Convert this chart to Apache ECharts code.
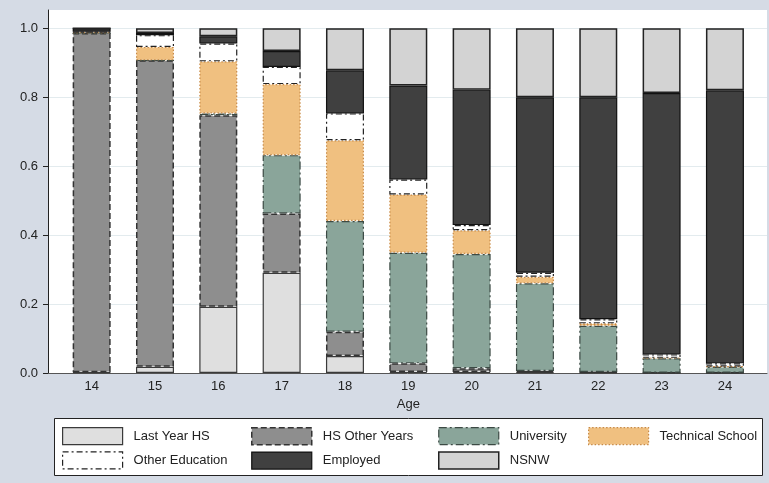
<!DOCTYPE html>
<html>
<head>
<meta charset="utf-8">
<script src="https://cdn.jsdelivr.net/npm/echarts@6/dist/echarts.min.js"></script>
<style>
  html, body { margin: 0; padding: 0; background: #d5dbe5; }
  #chart { width: 769px; height: 483px; }
</style>
</head>
<body>
<div id="chart"></div>
<script>
// Share of each activity by age (stacked proportions, each bar sums to 1)
const ages = ['14', '15', '16', '17', '18', '19', '20', '21', '22', '23', '24'];
const lastYearHS     = [0.002, 0.018, 0.192, 0.291, 0.049, 0.003, 0.003, 0.002, 0.001, 0.000, 0.000];
const hsOtherYears   = [0.984, 0.889, 0.556, 0.172, 0.071, 0.025, 0.011, 0.004, 0.002, 0.001, 0.001];
const university     = [0.000, 0.000, 0.005, 0.169, 0.321, 0.321, 0.331, 0.254, 0.134, 0.042, 0.017];
const technical      = [0.002, 0.039, 0.151, 0.206, 0.234, 0.169, 0.069, 0.019, 0.007, 0.001, 0.001];
const otherEducation = [0.002, 0.034, 0.052, 0.050, 0.078, 0.043, 0.015, 0.012, 0.012, 0.010, 0.009];
const employed       = [0.010, 0.006, 0.021, 0.046, 0.125, 0.273, 0.393, 0.509, 0.644, 0.758, 0.792];
const nsnw           = [0.000, 0.014, 0.023, 0.066, 0.122, 0.166, 0.178, 0.200, 0.200, 0.188, 0.180];
const yTicks = [0, 0.2, 0.4, 0.6, 0.8, 1.0];

const FONT = 'Liberation Sans, Arial, Helvetica, sans-serif';
const Y_MAX = 1.053;

const styles = {
  'Last Year HS':     { color: '#dfdfdf', borderColor: '#3a3a3a', borderWidth: 1.2, borderType: 'solid' },
  'HS Other Years':   { color: '#8e8e8e', borderColor: '#333333', borderWidth: 1.5, borderType: [6, 3] },
  'University':       { color: '#8aa59a', borderColor: '#3c4a44', borderWidth: 1.2, borderType: [8, 3, 2, 3] },
  'Technical School': { color: '#f0c080', borderColor: '#c88a46', borderWidth: 1.2, borderType: [1.5, 2] },
  'Other Education':  { color: '#ffffff', borderColor: '#222222', borderWidth: 1.2, borderType: [6, 3, 2, 3] },
  'Employed':         { color: '#404040', borderColor: '#111111', borderWidth: 1.2, borderType: 'solid' },
  'NSNW':             { color: '#d3d3d3', borderColor: '#222222', borderWidth: 1.5, borderType: 'solid' }
};

const seriesData = [
  ['Last Year HS', lastYearHS],
  ['HS Other Years', hsOtherYears],
  ['University', university],
  ['Technical School', technical],
  ['Other Education', otherEducation],
  ['Employed', employed],
  ['NSNW', nsnw]
];

// Bars live on grid 1 (category axis); grid 0 carries the frame, value axis and gridlines.
const series = seriesData.map(([name, values]) => ({
  name,
  type: 'bar',
  stack: 'total',
  xAxisIndex: 1,
  yAxisIndex: 1,
  barWidth: 38,
  data: values,
  itemStyle: styles[name],
  emphasis: { disabled: true }
}));

function legendColumn(names, left) {
  return {
    orient: 'vertical',
    left: left,
    top: 427,
    padding: 0,
    itemGap: 6,
    itemWidth: 60,
    itemHeight: 17,
    icon: 'rect',
    selectedMode: false,
    textStyle: { fontFamily: FONT, fontSize: 13, color: '#222', padding: [0, 0, 0, 6] },
    data: names.map(n => ({ name: n, itemStyle: styles[n] }))
  };
}

const chart = echarts.init(document.getElementById('chart'), null, { renderer: 'canvas' });
chart.setOption({
  animation: false,
  backgroundColor: '#d5dbe5',
  textStyle: { fontFamily: FONT },
  graphic: [{
    type: 'rect',
    shape: { x: 54.5, y: 418.5, width: 708, height: 57 },
    style: { fill: '#ffffff', stroke: '#222222', lineWidth: 1 },
    z: 0
  }],
  grid: [
    {
      left: 48, right: 2, top: 10, bottom: 110,
      backgroundColor: '#ffffff', show: true, borderWidth: 0,
      outerBoundsMode: 'none'
    },
    {
      left: 60, right: 12.4, top: 10, bottom: 110,
      show: false,
      outerBoundsMode: 'none'
    }
  ],
  legend: [
    legendColumn(['Last Year HS', 'Other Education'], 62),
    legendColumn(['HS Other Years', 'Employed'], 251),
    legendColumn(['University', 'NSNW'], 438),
    legendColumn(['Technical School'], 588)
  ],
  xAxis: [
    {
      gridIndex: 0,
      type: 'value',
      min: 0,
      max: 1,
      axisLine: { show: true, lineStyle: { color: '#555', width: 1 } },
      axisTick: { show: false },
      axisLabel: { show: false },
      splitLine: { show: false }
    },
    {
      gridIndex: 1,
      type: 'category',
      data: ages,
      name: 'Age',
      nameLocation: 'middle',
      nameGap: 22,
      nameTextStyle: { fontFamily: FONT, fontSize: 13, color: '#222' },
      axisLine: { show: false },
      axisTick: { show: false },
      splitLine: { show: false },
      axisLabel: { margin: 7, fontFamily: FONT, fontSize: 13, color: '#222' }
    }
  ],
  yAxis: [
    {
      gridIndex: 0,
      type: 'value',
      min: 0,
      max: Y_MAX,
      interval: 0.2,
      axisLine: { show: true, lineStyle: { color: '#222', width: 1 } },
      axisTick: { show: true, length: 5, customValues: yTicks, lineStyle: { color: '#222' } },
      splitLine: { show: true, lineStyle: { color: '#e3ebee', width: 1 } },
      axisLabel: {
        customValues: yTicks,
        margin: 10,
        fontFamily: FONT, fontSize: 13, color: '#222',
        formatter: v => v.toFixed(1)
      }
    },
    {
      gridIndex: 1,
      type: 'value',
      min: 0,
      max: Y_MAX,
      show: false
    }
  ],
  series
});
</script>
</body>
</html>
